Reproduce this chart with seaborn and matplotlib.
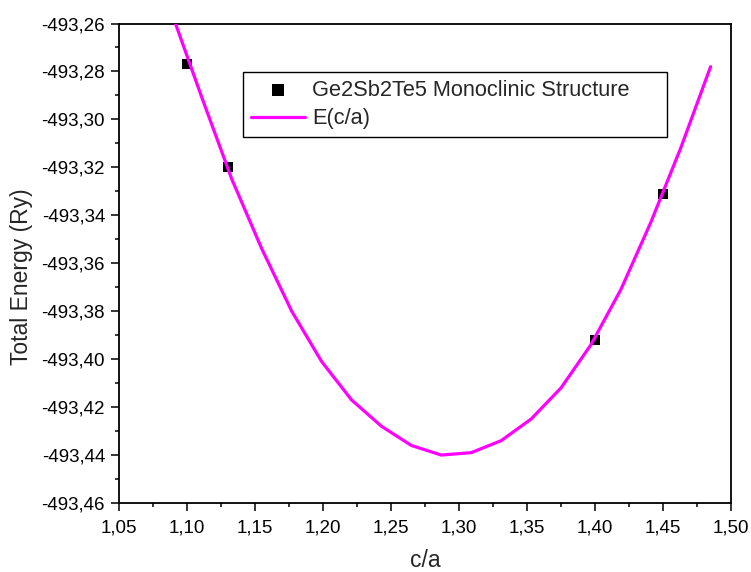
import matplotlib
matplotlib.use("Agg")
import matplotlib.pyplot as plt
from matplotlib.ticker import FuncFormatter, MultipleLocator
import seaborn as sns
import pandas as pd

# measured data points
pts_x = [1.10, 1.13, 1.40, 1.45]
pts_y = [-493.277, -493.320, -493.392, -493.331]

# fitted curve E(c/a)
fit_x = [1.089, 1.111, 1.133, 1.155, 1.177, 1.199, 1.221, 1.243, 1.265, 1.287,
         1.309, 1.331, 1.353, 1.375, 1.397, 1.419, 1.441, 1.463, 1.485]
fit_y = [-493.256, -493.291, -493.325, -493.354, -493.380, -493.401, -493.417,
         -493.428, -493.436, -493.440, -493.439, -493.434, -493.425, -493.412,
         -493.394, -493.371, -493.343, -493.312, -493.278]

pts_label = "Ge2Sb2Te5 Monoclinic Structure"
fit_label = "E(c/a)"

sns.set_theme(style="ticks")
plt.rcParams['font.family'] = ['Liberation Sans', 'DejaVu Sans']

fig = plt.figure(figsize=(7.51, 5.72), dpi=100)
ax = fig.add_axes([119/751, 1 - 503/572, (731 - 119)/751, (503 - 23.5)/572])

df_pts = pd.DataFrame({"x": pts_x, "y": pts_y})
df_fit = pd.DataFrame({"x": fit_x, "y": fit_y})

sns.scatterplot(data=df_pts, x="x", y="y", marker="s", color="black", s=50,
                edgecolor="black", linewidth=0, ax=ax, label=pts_label, zorder=2)
sns.lineplot(data=df_fit, x="x", y="y", color="#FF00FF", linewidth=2.3, ax=ax,
             label=fit_label, zorder=3)

ax.set_xlim(1.05, 1.50)
ax.set_ylim(-493.46, -493.26)
ax.xaxis.set_major_locator(MultipleLocator(0.05))
ax.xaxis.set_minor_locator(MultipleLocator(0.025))
ax.yaxis.set_major_locator(MultipleLocator(0.02))
ax.yaxis.set_minor_locator(MultipleLocator(0.01))
ax.xaxis.set_major_formatter(FuncFormatter(lambda v, p: f"{v:.2f}".replace(".", ",")))
ax.yaxis.set_major_formatter(FuncFormatter(lambda v, p: f"{v:.2f}".replace(".", ",")))

ax.tick_params(which="major", direction="out", length=6, width=1.1, labelsize=13.5,
               color="black", labelcolor="black")
ax.tick_params(axis="x", which="major", pad=6)
ax.tick_params(axis="y", which="major", pad=4)
ax.tick_params(which="minor", direction="out", length=3.2, width=1.1, color="black")

for s in ax.spines.values():
    s.set_visible(True)
    s.set_color("black")
    s.set_linewidth(1.3)

ax.set_xlabel("c/a", fontsize=16.5, labelpad=9)
ax.set_ylabel("Total Energy (Ry)", fontsize=16.5)
ax.yaxis.set_label_coords(-0.1405, 0.473)

x0 = (243 - 119) / 612
y1 = 1 - (72 - 23.5) / 479.5
w = (667 - 243) / 612
leg = ax.legend(loc="upper left", bbox_to_anchor=(x0, y1 - 0.2, w, 0.2), mode="expand",
                fontsize=15.7, frameon=True, fancybox=False, shadow=False,
                borderpad=0.35, handlelength=2.5, handletextpad=0.32, labelspacing=0.35,
                borderaxespad=0, markerscale=1.15)
leg.get_frame().set_edgecolor("black")
leg.get_frame().set_linewidth(1.0)
leg.get_frame().set_alpha(1)

fig.savefig("out.png", dpi=100, facecolor="white")
